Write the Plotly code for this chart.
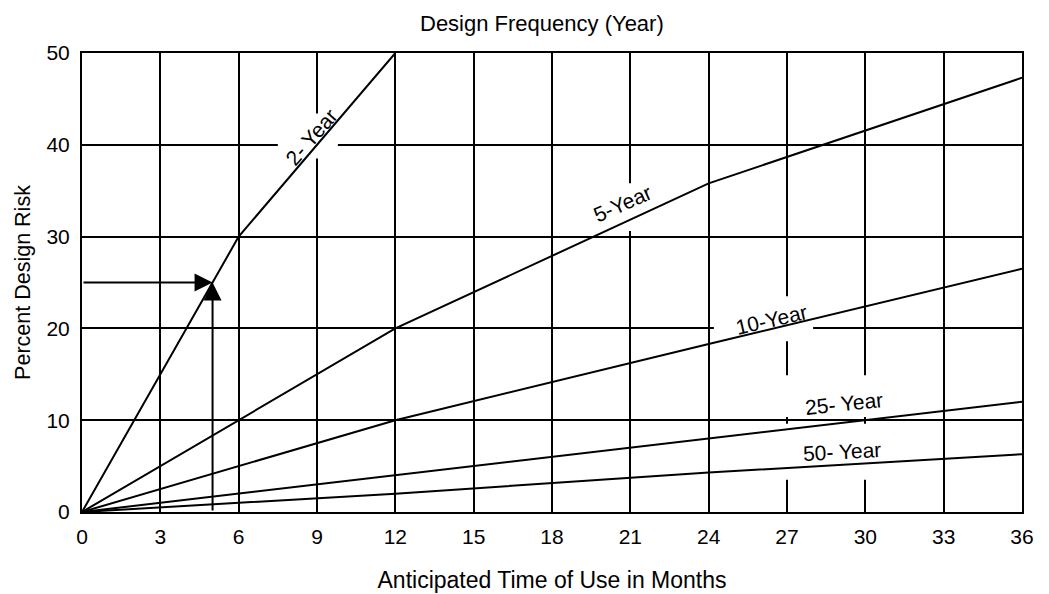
import plotly.graph_objects as go

# ---- data ----
months = [0, 12, 24, 36]
months_2yr = [0, 6, 12]
risk_2yr = [0, 30, 50]
risk_5yr = [0, 20, 35.8, 47.3]
risk_10yr = [0, 10, 18.3, 26.5]
risk_25yr = [0, 4, 8, 12]
risk_50yr = [0, 2, 4.3, 6.3]

x_ticks = list(range(0, 37, 3))
y_ticks = [0, 10, 20, 30, 40, 50]

# example reading shown by the arrows
example_month = 5
example_risk = 25

# curve labels: text, x, y, angle
labels = [
    ("2- Year", 8.8, 40.9, -49),
    ("5-Year", 20.7, 33.6, -24),
    ("10-Year", 26.4, 21.0, -13),
    ("25- Year", 29.2, 11.8, -6),
    ("50- Year", 29.1, 6.6, -3),
]
# white patches hiding the grid behind the labels (x0, x1, y0, y1)
gaps = [
    (7.5, 9.8, 38.5, 43.4),
    (19.5, 22.1, 30.6, 35.8),
    (24.2, 28.0, 18.6, 23.5),
    (26.5, 30.6, 10.35, 14.9),
    (26.5, 30.9, 3.5, 9.6),
]

FONT = "Liberation Sans, Arial, sans-serif"
FS = 21

fig = go.Figure()
line_style = dict(color="black", width=2)
fig.add_trace(go.Scatter(x=months_2yr, y=risk_2yr, mode="lines", line=line_style, hoverinfo="skip"))
for ys in (risk_5yr, risk_10yr, risk_25yr, risk_50yr):
    fig.add_trace(go.Scatter(x=months, y=ys, mode="lines", line=line_style, hoverinfo="skip"))

for x0, x1, y0, y1 in gaps:
    fig.add_shape(type="rect", x0=x0, x1=x1, y0=y0, y1=y1, xref="x", yref="y",
                  fillcolor="white", line=dict(width=0), layer="between")

for text, x, y, ang in labels:
    fig.add_annotation(x=x, y=y, text=text, textangle=ang, showarrow=False,
                       font=dict(family=FONT, size=FS, color="black"))

# arrows
fig.add_annotation(x=example_month, y=example_risk, ax=0, ay=example_risk,
                   xref="x", yref="y", axref="x", ayref="y", text="",
                   showarrow=True, arrowhead=2, arrowsize=1.8, arrowwidth=2, arrowcolor="black")
fig.add_annotation(x=example_month, y=example_risk, ax=example_month, ay=0,
                   xref="x", yref="y", axref="x", ayref="y", text="",
                   showarrow=True, arrowhead=2, arrowsize=1.8, arrowwidth=2, arrowcolor="black")

fig.add_annotation(x=0.5, y=1.0, xref="paper", yref="paper", yanchor="middle",
                   yshift=30, xshift=-10,
                   text="Design Frequency (Year)", showarrow=False,
                   font=dict(family=FONT, size=22, color="black"))

fig.update_layout(
    width=1049, height=594,
    margin=dict(l=74, r=35, t=45, b=90),
    paper_bgcolor="white", plot_bgcolor="white",
    showlegend=False,
    font=dict(family=FONT, size=FS, color="black"),
)
fig.update_xaxes(range=[0, 36], tickvals=x_ticks, ticktext=[str(v) for v in x_ticks],
                 showgrid=True, gridcolor="black", gridwidth=1.5,
                 showline=True, linecolor="black", linewidth=2, mirror=True,
                 zeroline=False, ticks="outside", ticklen=5, tickcolor="rgba(0,0,0,0)",
                 automargin=False,
                 title=dict(text="Anticipated Time of Use in Months", standoff=25,
                            font=dict(family=FONT, size=23)),
                 tickfont=dict(family=FONT, size=FS))
fig.update_yaxes(range=[0, 50], tickvals=y_ticks, ticktext=[str(v) for v in y_ticks],
                 showgrid=True, gridcolor="black", gridwidth=1.5,
                 showline=True, linecolor="black", linewidth=2, mirror=True,
                 zeroline=False, ticks="outside", ticklen=6, tickcolor="rgba(0,0,0,0)",
                 automargin=False,
                 title=dict(text="Percent Design Risk", standoff=10,
                            font=dict(family=FONT, size=21.5)),
                 tickfont=dict(family=FONT, size=FS))

fig.write_html("out.html")
